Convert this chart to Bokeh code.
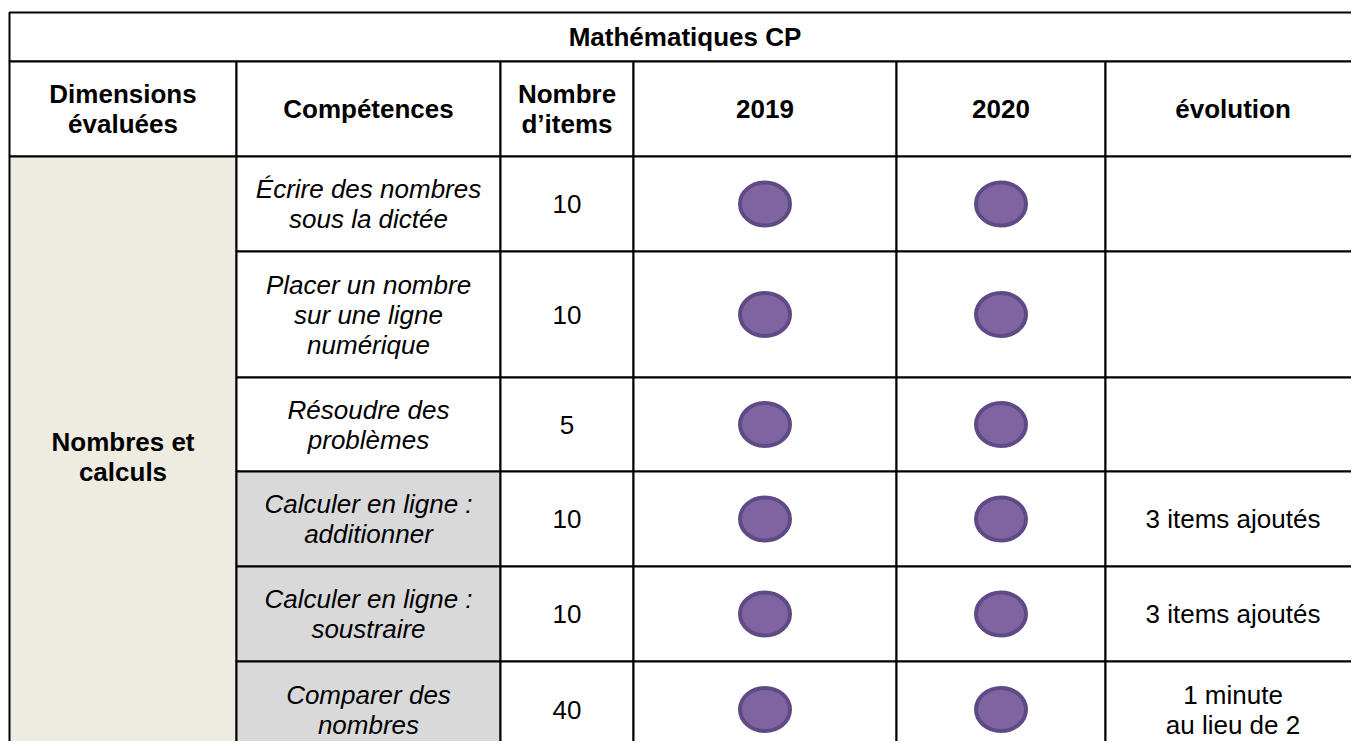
from bokeh.plotting import figure
from bokeh.models import Range1d, ColumnDataSource
from bokeh.embed import file_html
from bokeh.resources import INLINE
from bokeh.core.properties import value

# ---------------- data ----------------
title = "Mathématiques CP"
headers = ["Dimensions\névaluées", "Compétences", "Nombre\nd’items", "2019", "2020", "évolution"]
dimension = "Nombres et\ncalculs"
competences = [
    "Écrire des nombres\nsous la dictée",
    "Placer un nombre\nsur une ligne\nnumérique",
    "Résoudre des\nproblèmes",
    "Calculer en ligne :\nadditionner",
    "Calculer en ligne :\nsoustraire",
    "Comparer des\nnombres",
]
nb_items = [10, 10, 5, 10, 10, 40]
eval_2019 = [1, 1, 1, 1, 1, 1]
eval_2020 = [1, 1, 1, 1, 1, 1]
evolution = ["", "", "", "3 items ajoutés", "3 items ajoutés", "1 minute\nau lieu de 2"]
highlighted = [False, False, False, True, True, True]

# ---------------- layout ----------------
col_edges = [9, 236, 500, 633, 896, 1105, 1360]
row_edges = [12, 61, 156, 251, 377, 471, 566, 661, 757]
FONT = value("Liberation Sans")
FS = "26px"
LH = 1.0
WHITE = "#FFFFFF"
BEIGE = "#EEEBE0"
GREY = "#D9D9D9"
W, H = 1351, 741

def cx(i):
    return (col_edges[i] + col_edges[i + 1]) / 2

def cy(j):
    return (row_edges[j] + row_edges[j + 1]) / 2

p = figure(width=W, height=H, x_range=Range1d(0, W), y_range=Range1d(H, 0),
           output_backend="svg", toolbar_location=None, x_axis_type=None, y_axis_type=None,
           min_border=0, outline_line_color=None, background_fill_color=WHITE,
           border_fill_color=WHITE)
p.xgrid.visible = False
p.ygrid.visible = False

# cells
L, R, T, B, F = [], [], [], [], []
L.append(col_edges[0]); R.append(col_edges[-1]); T.append(row_edges[0]); B.append(row_edges[1]); F.append(WHITE)
for i in range(6):
    L.append(col_edges[i]); R.append(col_edges[i + 1]); T.append(row_edges[1]); B.append(row_edges[2]); F.append(WHITE)
L.append(col_edges[0]); R.append(col_edges[1]); T.append(row_edges[2]); B.append(row_edges[-1]); F.append(BEIGE)
for r in range(len(competences)):
    for i in range(1, 6):
        L.append(col_edges[i]); R.append(col_edges[i + 1])
        T.append(row_edges[r + 2]); B.append(row_edges[r + 3])
        F.append(GREY if (i == 1 and highlighted[r]) else WHITE)
p.quad(left=L, right=R, top=T, bottom=B, fill_color=F, line_color="black", line_width=2)

# circles
ex, ey = [], []
for r in range(len(competences)):
    if eval_2019[r]:
        ex.append(cx(3)); ey.append(cy(r + 2))
    if eval_2020[r]:
        ex.append(cx(4)); ey.append(cy(r + 2))
p.ellipse(x=ex, y=ey, width=50, height=43, fill_color="#8064A2",
          line_color="#5E4B86", line_width=4)

def put(xs, ys, texts, style):
    src = ColumnDataSource(dict(x=xs, y=ys, t=texts))
    p.text(x="x", y="y", text="t", source=src, text_font=FONT, text_font_size=FS,
           text_font_style=style, text_align="center", text_baseline="middle",
           text_line_height=LH, text_color="black")

put([(col_edges[0] + col_edges[-1]) / 2], [cy(0)], [title], "bold")
put([cx(i) for i in range(6)], [cy(1)] * 6, headers, "bold")
put([cx(0)], [(row_edges[2] + row_edges[-1]) / 2], [dimension], "bold")
n = len(competences)
put([cx(1)] * n, [cy(r + 2) for r in range(n)], competences, "italic")
put([cx(2)] * n, [cy(r + 2) for r in range(n)], [str(v) for v in nb_items], "normal")
put([cx(5)] * n, [cy(r + 2) for r in range(n)], evolution, "normal")

open("out.html", "w").write(file_html(p, INLINE))
